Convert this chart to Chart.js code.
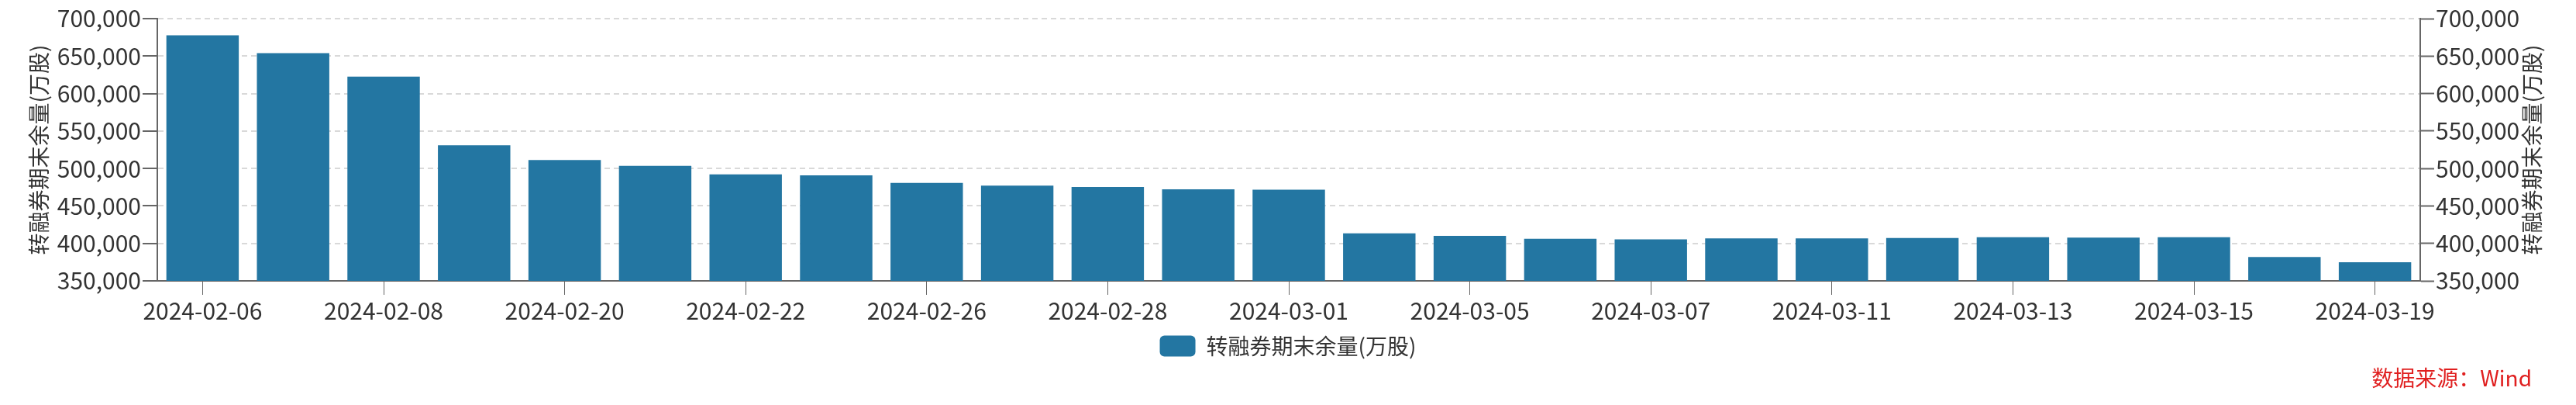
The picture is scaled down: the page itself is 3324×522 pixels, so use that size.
<!doctype html>
<html lang="zh-CN">

<head>
  <meta charset="utf-8">
  <title>转融券期末余量</title>
  <style>
    html, body { margin: 0; padding: 0; background: #fff; }
    #wrap { width: 3324px; height: 522px; }
  </style>
</head>

<body>
  <div id="wrap">
    <canvas id="myChart" width="3324" height="522"></canvas>
  </div>

  <script src="https://cdn.jsdelivr.net/npm/chart.js@4.4.2/dist/chart.umd.min.js"></script>

  <script>
    const dates = ['2024-02-06', '2024-02-07', '2024-02-08', '2024-02-19', '2024-02-20', '2024-02-21',
      '2024-02-22', '2024-02-23', '2024-02-26', '2024-02-27', '2024-02-28', '2024-02-29', '2024-03-01',
      '2024-03-04', '2024-03-05', '2024-03-06', '2024-03-07', '2024-03-08', '2024-03-11', '2024-03-12',
      '2024-03-13', '2024-03-14', '2024-03-15', '2024-03-18', '2024-03-19'];

    // 转融券期末余量 (万股)
    const balance = [677700, 653800, 622600, 530900, 511300, 503400, 492100, 490800, 480800, 477100,
      475400, 472300, 471600, 413500, 410000, 406300, 405300, 406600, 406600, 407300,
      408300, 407600, 408300, 381900, 374800];

    const seriesName = '转融券期末余量(万股)';
    const axisTitle = '转融券期末余量(万股)';
    const sourceNote = '数据来源：Wind';

    const yMin = 350000;
    const yMax = 700000;
    const yStep = 50000;

    const font = "'Noto Sans CJK SC', 'Noto Sans', sans-serif";
    const barColor = '#2376a2';
    const axisColor = '#666666';
    const textColor = '#333333';

    // right axis title reads bottom-to-top like the left one, plus the source note
    const extraText = {
      id: 'extraText',
      afterDraw(chart) {
        const c = chart.ctx;
        const area = chart.chartArea;
        c.save();
        c.fillStyle = textColor;
        c.font = '28px ' + font;
        c.textAlign = 'center';
        c.textBaseline = 'middle';
        c.translate(chart.scales.y2.right - 57, (area.top + area.bottom) / 2);
        c.rotate(-Math.PI / 2);
        c.fillText(axisTitle, 0, 0);
        c.restore();

        c.save();
        c.fillStyle = '#e02020';
        c.font = '28px ' + font;
        c.textAlign = 'right';
        c.textBaseline = 'middle';
        c.fillText(sourceNote, chart.width - 57, 487);
        c.restore();
      }
    };

    const ctx = document.getElementById('myChart');

    new Chart(ctx, {
      type: 'bar',
      data: {
        labels: dates,
        datasets: [{
          label: seriesName,
          data: balance,
          backgroundColor: barColor,
          borderWidth: 0,
          barPercentage: 0.8,
          categoryPercentage: 1.0,
          yAxisID: 'y'
        }]
      },
      plugins: [extraText],
      options: {
        responsive: false,
        animation: false,
        layout: {
          padding: { top: 24, left: 0, right: 0, bottom: 52 }
        },
        scales: {
          x: {
            grid: {
              offset: false,
              drawOnChartArea: false,
              drawTicks: true,
              tickLength: 18,
              tickColor: axisColor
            },
            border: { display: true, color: axisColor, width: 2 },
            ticks: {
              autoSkip: false,
              maxRotation: 0,
              padding: 3,
              color: textColor,
              font: { family: font, size: 30 },
              callback: function (value, index) {
                return index % 2 === 0 ? this.getLabelForValue(value) : null;
              }
            }
          },
          y: {
            position: 'left',
            min: yMin,
            max: yMax,
            afterFit: (scale) => { scale.width = 203; },
            grid: {
              color: '#d9d9d9',
              lineWidth: 2,
              drawTicks: true,
              tickLength: 19,
              tickColor: axisColor,
              tickWidth: 2
            },
            border: { display: true, color: axisColor, width: 2, dash: [7, 5] },
            title: {
              display: true,
              text: axisTitle,
              color: textColor,
              font: { family: font, size: 28 },
              padding: { top: 34, bottom: 0 }
            },
            ticks: {
              stepSize: yStep,
              padding: 2,
              color: textColor,
              font: { family: font, size: 30 },
              callback: (v) => v.toLocaleString('en-US')
            }
          },
          y2: {
            position: 'right',
            min: yMin,
            max: yMax,
            afterFit: (scale) => { scale.width = 201; },
            grid: {
              drawOnChartArea: false,
              drawTicks: true,
              tickLength: 18,
              tickColor: axisColor,
              tickWidth: 2
            },
            border: { display: true, color: axisColor, width: 2 },
            ticks: {
              stepSize: yStep,
              padding: 2,
              color: textColor,
              font: { family: font, size: 30 },
              callback: (v) => v.toLocaleString('en-US')
            }
          }
        },
        plugins: {
          legend: {
            display: true,
            position: 'bottom',
            labels: {
              boxWidth: 46,
              boxHeight: 27,
              useBorderRadius: true,
              borderRadius: 6,
              padding: 10,
              color: textColor,
              font: { family: font, size: 28 }
            }
          },
          tooltip: { enabled: false }
        }
      }
    });
  </script>

</body>

</html>
